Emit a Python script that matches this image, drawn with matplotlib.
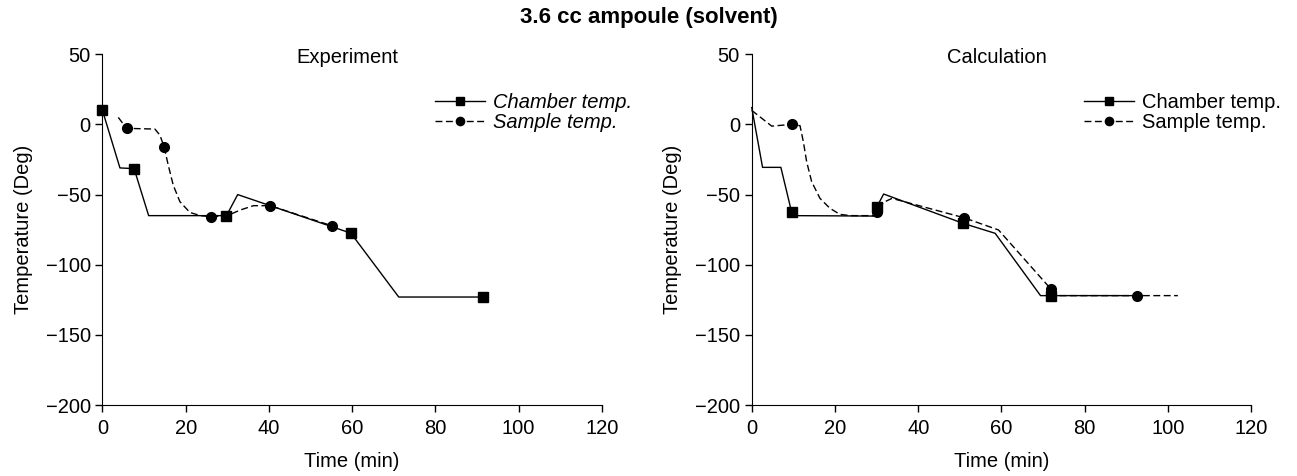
import numpy as np
import matplotlib.pyplot as plt

plt.rcParams['font.family'] = ['Liberation Sans', 'DejaVu Sans']

# Experiment panel
exp_chamber_t = [0, 4.2, 7.6, 11.1, 29.8, 32.5, 59.7, 71.2, 91.5]
exp_chamber_T = [10, -31, -31.5, -65, -65, -50, -77.5, -123, -123]
exp_chamber_marks = [0, 2, 4, 6, 8]

exp_sample_t = [3.8, 5.8, 12.6, 13.8, 14.8, 15.8, 17.0, 18.6, 21.0, 23.5, 26.0,
                29.8, 33.1, 36.3, 40.3, 55.2]
exp_sample_T = [5, -2.8, -3.3, -7.6, -15.9, -28.9, -43.2, -55, -62.7, -65, -65.7,
                -65.3, -61, -57.9, -57.9, -72.3]
exp_sample_marks = [1, 4, 10, 14, 15]

# Calculation panel
calc_chamber_t = [0, 2.6, 7.0, 9.6, 10.0, 29.3, 30.1, 31.7, 50.8, 58.5, 69.4,
                  71.8, 92.6]
calc_chamber_T = [12, -30.6, -30.6, -62.7, -65, -65.3, -58.6, -49.6, -70.5,
                  -77.6, -122, -122, -122]
calc_chamber_marks = [3, 6, 8, 11]

calc_sample_t = [0, 4.8, 9.6, 11.6, 12.4, 13.2, 14.4, 16.4, 18.8, 21.2, 23.7,
                 29.3, 30.1, 31.7, 33.7, 51.0, 59.3, 71.8, 73.5, 92.6, 102.4]
calc_sample_T = [10, -1.2, 0, -0.9, -12.3, -26.6, -40.8, -52.7, -59.8, -64.1,
                 -65, -65, -62.2, -55.5, -52.7, -66.5, -75.2, -117, -122, -122,
                 -122]
calc_sample_marks = [2, 12, 15, 17, 19]

panels = [
    ('Experiment', exp_chamber_t, exp_chamber_T, exp_chamber_marks,
     exp_sample_t, exp_sample_T, exp_sample_marks, 'italic'),
    ('Calculation', calc_chamber_t, calc_chamber_T, calc_chamber_marks,
     calc_sample_t, calc_sample_T, calc_sample_marks, 'normal'),
]

fig = plt.figure(figsize=(12.97, 4.76), dpi=100)
lefts = [0.079, 0.5796]

for left, (name, ct, cT, cm, st, sT, sm, lstyle) in zip(lefts, panels):
    ax = fig.add_axes([left, 0.149, 0.385, 0.737])
    ax.plot(ct, cT, color='black', lw=1.0, marker='s', ms=6.5,
            markevery=cm, label='Chamber temp.', clip_on=False)
    ax.plot(st, sT, color='black', lw=1.0, ls=(0, (5, 2.5)), marker='o',
            ms=7, markevery=sm, label='Sample temp.', clip_on=False)
    ax.set_xlim(0, 120)
    ax.set_ylim(-200, 50)
    ax.set_xticks(np.arange(0, 121, 20))
    ax.set_yticks(np.arange(-200, 51, 50))
    ax.spines['top'].set_visible(False)
    ax.spines['right'].set_visible(False)
    ax.tick_params(direction='out', length=5, width=1, labelsize=14.5)
    ax.tick_params(axis='x', pad=5)
    ax.set_xlabel('Time (min)', fontsize=14.5, labelpad=10)
    ax.set_ylabel('Temperature (Deg)', fontsize=14.5, labelpad=9)
    ax.text(0.49, 0.99, name, transform=ax.transAxes, ha='center',
            va='center', fontsize=14.5)
    ax.legend(loc='upper left', bbox_to_anchor=(0.665, 0.89), frameon=False,
              handlelength=2.5, handletextpad=0.4, markerscale=0.85,
              borderpad=0, labelspacing=0.05, borderaxespad=0,
              prop={'style': lstyle, 'size': 14.5})

fig.text(0.5, 0.963, '3.6 cc ampoule (solvent)', ha='center', va='center',
         fontsize=16, fontweight='bold')

fig.savefig('out.png', dpi=100)
